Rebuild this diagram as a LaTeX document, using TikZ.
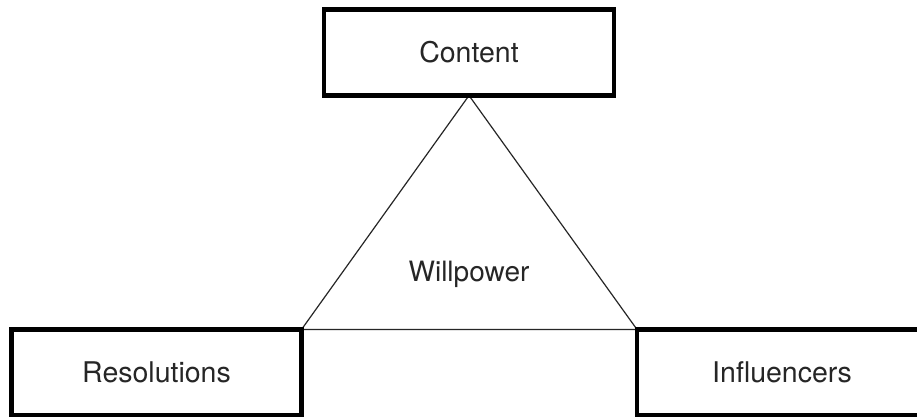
\documentclass[tikz,border=0pt]{standalone}
\usepackage{fontspec}
\setmainfont{TeX Gyre Heros}
\usetikzlibrary{backgrounds}
\begin{document}
\begin{tikzpicture}[x=1pt,y=-1pt,
  box/.style={draw=black, line width=4.5pt, minimum width=290pt, minimum height=86pt,
    inner sep=0pt, outer sep=0pt, font=\fontsize{28.5}{34}\selectfont, text=black!85,
    text height=20.5pt, text depth=0pt},
  label/.style={font=\fontsize{28}{34}\selectfont, text=black!85, inner sep=0pt},
  thin/.style={line width=1.2pt, draw=black!85}]
\clip (0,0) rectangle (917,417);
\useasboundingbox (0,0) rectangle (917,417);
\node[box] (content) at (469,52.5) {Content};
\node[box] (resol) at (156.5,372.5) {Resolutions};
\node[box] (infl) at (782,372.5) {Influencers};
\node[label, anchor=base] (will) at (469,281) {Willpower};
\begin{scope}[on background layer]
\fill[white] (0,0) rectangle (917,417);
\draw[thin] (content.south) -- (resol.north east) -- (infl.north west) -- cycle;
\end{scope}
\end{tikzpicture}
\end{document}
